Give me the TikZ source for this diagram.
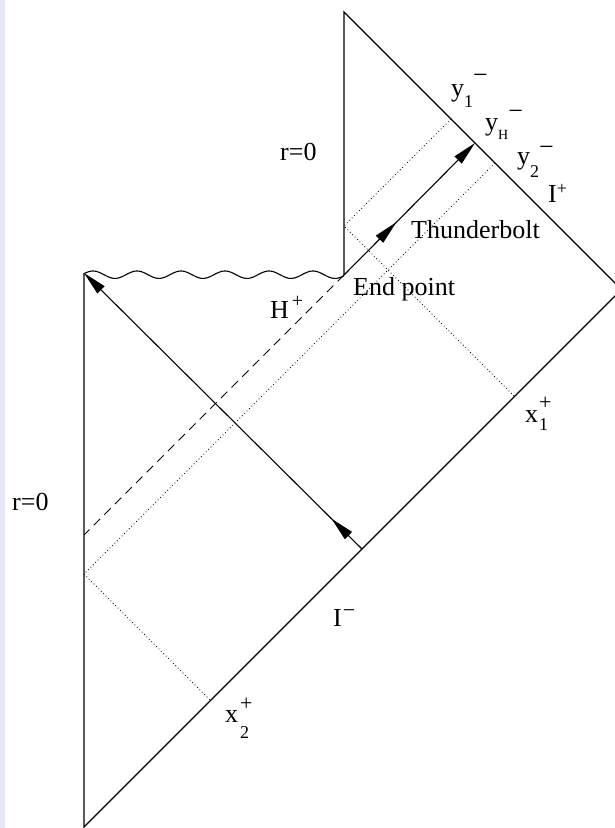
\documentclass[tikz,border=0pt]{standalone}
\usepackage{fontspec}
\setmainfont{Liberation Serif}
\usetikzlibrary{arrows.meta,decorations.markings}
\definecolor{stripcol}{RGB}{230,230,250}
\begin{document}
\begin{tikzpicture}[x=1pt,y=-1pt,
  edge/.style={line width=1.1pt},
  dots/.style={line width=0.8pt, dash pattern=on 0.8pt off 2.6pt},
  hdash/.style={line width=1pt, dash pattern=on 9pt off 6pt},
  lab/.style={anchor=base west, inner sep=0pt, font=\fontsize{26}{30}\selectfont},
  tipA/.style={-{Triangle[length=24pt,width=10pt]}},
  midtip/.style={postaction={decorate}, decoration={markings,
     mark=at position #1 with {\arrow{Triangle[length=24pt,width=10pt]}}}}
]
\useasboundingbox (0,0) rectangle (615,828);
\fill[stripcol] (0,0) rectangle (5,828);

% corners
\coordinate (A) at (84,273);
\coordinate (B) at (84,827);
\coordinate (C) at (344,275);
\coordinate (D) at (344,12);
\coordinate (E) at (621.5,289.5);
% points on boundaries
\coordinate (Y1) at (451,119);
\coordinate (P1) at (344,226);
\coordinate (X1) at (514.5,396.5);
\coordinate (Y2) at (495,163);
\coordinate (Q) at (84,574);
\coordinate (X2) at (210.5,700.5);
\coordinate (H) at (84,535);
\coordinate (YH) at (475,143);
\coordinate (S) at (362,549);

% boundary
\draw[edge] (A) -- (B) -- (E) -- (D) -- (C);
% singularity
\draw[edge] plot[domain=84:344, samples=200, smooth] (\x, {274.7 - 3.7*cos(8.1818*(\x-93))});

% dotted rays
\draw[dots] (Y1) -- (P1) -- (X1);
\draw[dots] (Y2) -- (Q) -- (X2);
% horizon
\draw[hdash] (C) -- (H);
% thunderbolt
\draw[edge, tipA, midtip=0.40] (C) -- (YH);
% infalling ray
\draw[edge, tipA, midtip=0.11] (S) -- (A);

% labels
\node[lab] (ly1) at (451,96) {y\raisebox{-11pt}{\fontsize{18}{18}\selectfont 1}\raisebox{13pt}{\fontsize{26}{26}\selectfont −}};
\node[lab] (lyH) at (485,130) {y\raisebox{-9pt}{\fontsize{14}{14}\selectfont H}\raisebox{11pt}{\fontsize{26}{26}\selectfont −}};
\node[lab] (ly2) at (517,164) {y\raisebox{-13pt}{\fontsize{18}{18}\selectfont 2}\raisebox{9pt}{\fontsize{26}{26}\selectfont −}};
\node[lab] (lIp) at (548,202) {I\raisebox{7.5pt}{\fontsize{18}{18}\selectfont +}};
\node[lab] (lthb) at (411,238) {Thunderbolt};
\node[lab] (lend) at (353,295) {End point};
\node[lab] (lH) at (270,318) {H\hspace{3pt}\raisebox{11pt}{\fontsize{20}{20}\selectfont +}};
\node[lab] (lx1) at (525,422) {x\hspace{1pt}\rlap{\raisebox{-8pt}{\fontsize{18}{18}\selectfont 1}}\raisebox{13pt}{\fontsize{22}{22}\selectfont +}};
\node[lab] (lx2) at (225,722) {x\hspace{2pt}\rlap{\raisebox{-16pt}{\fontsize{18}{18}\selectfont 2}}\raisebox{11.5pt}{\fontsize{22}{22}\selectfont +}};
\node[lab] (lIm) at (333,626) {I\hspace{1pt}\raisebox{9pt}{\fontsize{22}{22}\selectfont −}};
\node[lab] (lr1) at (280,160) {r=0};
\node[lab] (lr2) at (12,510) {r=0};
\end{tikzpicture}
\end{document}
